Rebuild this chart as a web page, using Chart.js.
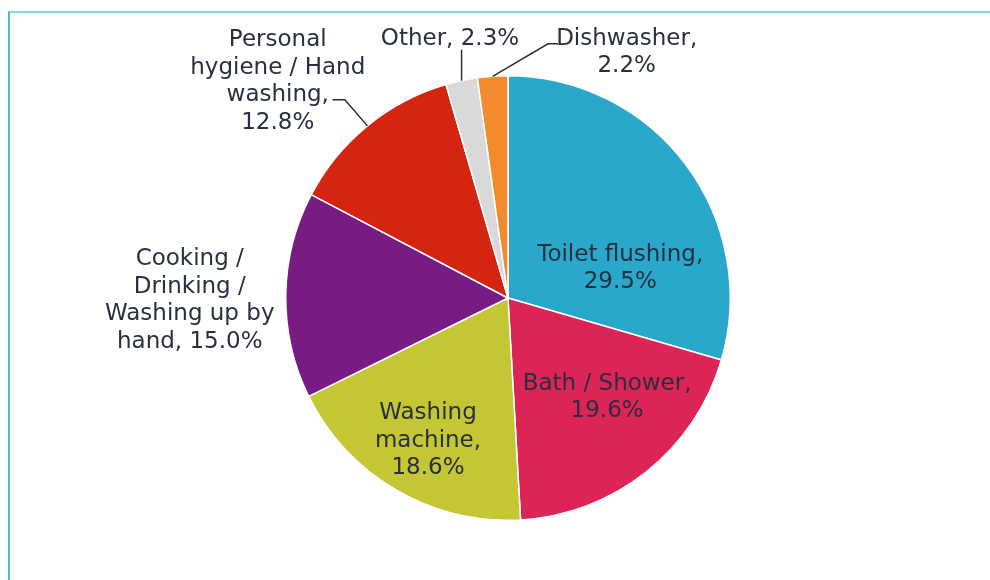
<!DOCTYPE html>
<html>
<head>
<meta charset="utf-8">
<title>Household water use</title>
<script src="https://cdn.jsdelivr.net/npm/chart.js@4/dist/chart.umd.min.js"></script>
<style>
  html, body { margin: 0; padding: 0; background: #ffffff; }
  #wrap { position: relative; width: 990px; height: 580px; overflow: hidden; }
  #frame {
    position: absolute; left: 8px; top: 11px; width: 1000px; height: 600px;
    border-top: 2px solid #86d3e0; border-left: 2px solid #48bcd3;
    box-sizing: border-box; pointer-events: none;
  }
  canvas { position: absolute; left: 0; top: 0; }
</style>
</head>
<body>
<div id="wrap">
  <canvas id="chart" width="990" height="580"></canvas>
  <div id="frame"></div>
</div>
<script>
// Share of household water use by activity (percent)
const categories = [
  'Toilet flushing',
  'Bath / Shower',
  'Washing machine',
  'Cooking / Drinking / Washing up by hand',
  'Personal hygiene / Hand washing',
  'Other',
  'Dishwasher'
];
const shares = [29.5, 19.6, 18.6, 15.0, 12.8, 2.3, 2.2];

const sliceColors = ['#2aa8cc', '#dc2457', '#c5c634', '#781b82', '#d5240f', '#d9d9d9', '#f28b2b'];

// Text lines of each data label (value appended from the data)
const labelLines = [
  ['Toilet flushing,', '{v}'],
  ['Bath / Shower,', '{v}'],
  ['Washing', 'machine,', '{v}'],
  ['Cooking /', 'Drinking /', 'Washing up by', 'hand, {v}'],
  ['Personal', 'hygiene / Hand', 'washing,', '{v}'],
  ['Other, {v}'],
  ['Dishwasher,', '{v}']
];

// Label block centres, in units of the pie radius relative to the pie centre
const labelAnchors = [
  [0.505, -0.144],
  [0.446, 0.437],
  [-0.360, 0.631],
  [-1.432, 0.0],
  [-1.036, -0.985],
  [-0.261, -1.176],
  [0.534, -1.115]
];

// Leader line points after the slice edge (radius units), null = no leader
const leaderPoints = [
  null, null, null, null,
  [[-0.734, -0.892], [-0.790, -0.892]],
  [[null, -1.117]],
  [[0.180, -1.144], [0.225, -1.144]]
];

const FONT_SIZE = 23;
const LINE_H = 27.5;

const pieLabels = {
  id: 'pieLabels',
  afterDatasetsDraw(chart) {
    const ctx = chart.ctx;
    const meta = chart.getDatasetMeta(0);
    ctx.save();
    meta.data.forEach((arc, i) => {
      const { x: cx, y: cy, outerRadius: R, startAngle, endAngle } = arc.getProps(['x', 'y', 'outerRadius', 'startAngle', 'endAngle'], true);
      const mid = (startAngle + endAngle) / 2;

      // leader line from the slice edge
      const pts = leaderPoints[i];
      if (pts) {
        const ex = cx + R * Math.cos(mid);
        const ey = cy + R * Math.sin(mid);
        ctx.beginPath();
        ctx.moveTo(ex, ey);
        pts.forEach(([px, py]) => {
          const X = px === null ? ex : cx + px * R;
          ctx.lineTo(X, cy + py * R);
        });
        ctx.strokeStyle = '#2d2d2d';
        ctx.lineWidth = 1.5;
        ctx.stroke();
      }

      // label text
      const v = shares[i].toFixed(1) + '%';
      const lines = labelLines[i].map(s => s.replace('{v}', v));
      const [ax, ay] = labelAnchors[i];
      const lx = cx + ax * R;
      const ly = cy + ay * R;
      ctx.font = FONT_SIZE + 'px "DejaVu Sans", Verdana, sans-serif';
      ctx.fillStyle = '#28303f';
      ctx.textAlign = 'center';
      ctx.textBaseline = 'alphabetic';
      const top = ly - (lines.length - 1) * LINE_H / 2;
      lines.forEach((t, k) => {
        ctx.fillText(t, lx, top + k * LINE_H + FONT_SIZE * 0.365);
      });
    });
    ctx.restore();
  }
};

new Chart(document.getElementById('chart'), {
  type: 'pie',
  data: {
    labels: categories,
    datasets: [{
      data: shares,
      backgroundColor: sliceColors,
      borderColor: '#ffffff',
      borderWidth: 1.5
    }]
  },
  options: {
    responsive: false,
    animation: false,
    layout: { padding: { left: 285, right: 259, top: 75, bottom: 59 } },
    plugins: {
      legend: { display: false },
      tooltip: { enabled: false }
    }
  },
  plugins: [pieLabels]
});
</script>
</body>
</html>
